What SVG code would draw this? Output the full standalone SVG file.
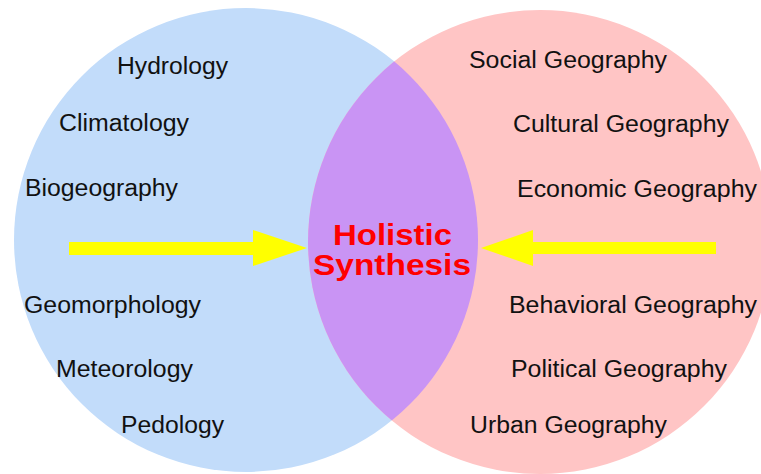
<svg xmlns="http://www.w3.org/2000/svg" width="761" height="474" viewBox="0 0 761 474">
  <style>
    .lbl { font-family: "Liberation Sans", Arial, sans-serif; font-size: 23px; fill: #111; }
    .hs { font-family: "Liberation Sans", Arial, sans-serif; font-size: 29px; font-weight: bold; fill: #ff0000; }
    .arrow { fill: #ffff00; }
  </style>
  <defs>
    <clipPath id="leftClip"><circle cx="246" cy="240" r="232"/></clipPath>
  </defs>
  <rect width="761" height="474" fill="#ffffff"/>
  <g id="physical-geography">
    <circle cx="246" cy="240" r="232" fill="#c2dcfa"/>
  </g>
  <g id="human-geography">
    <circle cx="540" cy="242" r="232" fill="#ffc5c5"/>
  </g>
  <g id="holistic-synthesis">
    <circle cx="540" cy="242" r="232" fill="#c994f4" clip-path="url(#leftClip)"/>
    <text class="hs" x="333" y="245" textLength="119" lengthAdjust="spacingAndGlyphs">Holistic</text>
    <text class="hs" x="313" y="275" textLength="158" lengthAdjust="spacingAndGlyphs">Synthesis</text>
  </g>
  <g id="physical-labels">
    <text class="lbl" x="117" y="74" textLength="111" lengthAdjust="spacingAndGlyphs">Hydrology</text>
    <text class="lbl" x="59" y="131" textLength="130" lengthAdjust="spacingAndGlyphs">Climatology</text>
    <text class="lbl" x="25" y="196" textLength="153" lengthAdjust="spacingAndGlyphs">Biogeography</text>
    <text class="lbl" x="24" y="313" textLength="177" lengthAdjust="spacingAndGlyphs">Geomorphology</text>
    <text class="lbl" x="56" y="377" textLength="137" lengthAdjust="spacingAndGlyphs">Meteorology</text>
    <text class="lbl" x="121" y="433" textLength="103" lengthAdjust="spacingAndGlyphs">Pedology</text>
  </g>
  <g id="human-labels">
    <text class="lbl" x="469" y="68" textLength="198" lengthAdjust="spacingAndGlyphs">Social Geography</text>
    <text class="lbl" x="513" y="132" textLength="216" lengthAdjust="spacingAndGlyphs">Cultural Geography</text>
    <text class="lbl" x="517" y="197" textLength="240" lengthAdjust="spacingAndGlyphs">Economic Geography</text>
    <text class="lbl" x="509" y="313" textLength="248" lengthAdjust="spacingAndGlyphs">Behavioral Geography</text>
    <text class="lbl" x="511" y="377" textLength="216" lengthAdjust="spacingAndGlyphs">Political Geography</text>
    <text class="lbl" x="470" y="433" textLength="197" lengthAdjust="spacingAndGlyphs">Urban Geography</text>
  </g>
  <g id="connectors">
    <polygon class="arrow" points="69,242 253,242 253,230 307,248 253,266 253,255 69,255"/>
    <polygon class="arrow" points="716,242 533,242 533,230 481,248 533,266 533,254 716,254"/>
  </g>
</svg>
